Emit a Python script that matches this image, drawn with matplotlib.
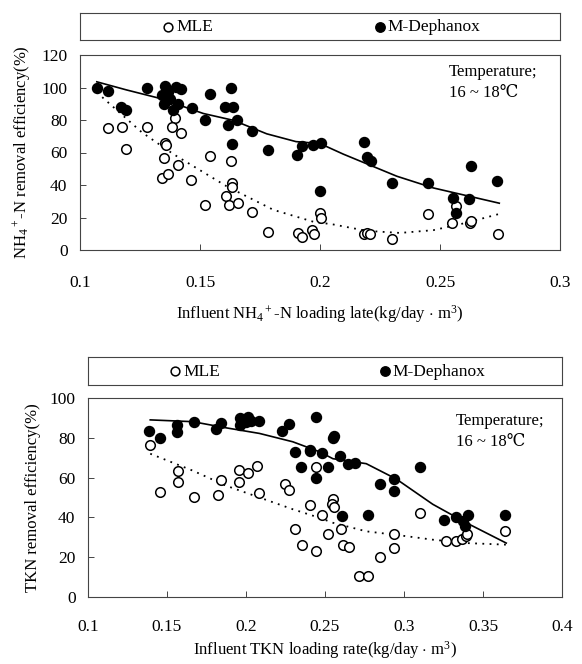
import matplotlib
matplotlib.use("Agg")
import matplotlib.pyplot as plt

plt.rcParams['font.family'] = ['Liberation Serif', 'DejaVu Serif', 'DejaVu Sans']
plt.rcParams['mathtext.fontset'] = 'custom'
plt.rcParams['mathtext.rm'] = 'Liberation Serif'
plt.rcParams['mathtext.it'] = 'Liberation Serif:italic'
plt.rcParams['mathtext.bf'] = 'Liberation Serif:bold'

# ---------------- Top panel data (NH4+-N) ----------------
nh4_dep_x = [0.107, 0.1115, 0.117, 0.119, 0.128, 0.1354, 0.134, 0.1368, 0.140, 0.142,
             0.135, 0.1375, 0.1386, 0.141, 0.1465, 0.154, 0.152, 0.1604, 0.163, 0.1636,
             0.1618, 0.1655, 0.1635, 0.1715, 0.1785, 0.1905, 0.1926, 0.197, 0.2003, 0.200,
             0.2183, 0.2194, 0.2211, 0.2299, 0.2449, 0.2556, 0.2567, 0.2629, 0.2622, 0.2739]
nh4_dep_y = [100, 98, 88, 86, 100, 101, 95.5, 97.5, 100.5, 99,
             90, 93, 86, 90, 87.5, 96, 80, 88, 99.5, 88,
             77, 80, 65, 73.5, 61.5, 58.5, 64, 64.5, 66, 36.5,
             66.5, 57.5, 55, 41.5, 41, 32, 22.5, 52, 31.5, 42.5]

nh4_mle_x = [0.1115, 0.1174, 0.119, 0.128, 0.1396, 0.1385, 0.142, 0.1354, 0.1360, 0.135,
             0.141, 0.134, 0.1368, 0.1463, 0.154, 0.152, 0.163, 0.1635, 0.1635, 0.1607,
             0.1622, 0.1657, 0.1718, 0.1785, 0.1907, 0.1926, 0.1968, 0.1975, 0.200, 0.2003,
             0.2183, 0.2194, 0.2208, 0.2299, 0.2449, 0.2549, 0.2567, 0.2625, 0.2630, 0.2743]
nh4_mle_y = [75, 76, 62, 75.5, 81.5, 76, 72, 66, 64.5, 56.5,
             52.5, 44.5, 47, 43, 58, 28, 54.5, 41.5, 39, 33,
             28, 29, 23.5, 11, 10.5, 8, 12.5, 10, 22.5, 20,
             10, 10.5, 10, 6.5, 22, 16.5, 27, 16.5, 18, 10]

nh4_dep_fit_x = [0.107, 0.1194, 0.1333, 0.1514, 0.1639, 0.1778, 0.190, 0.200, 0.2097, 0.232, 0.2472, 0.2747]
nh4_dep_fit_y = [103.5, 98.5, 93.3, 84, 79.8, 71.5, 66.7, 65.5, 59, 45.4, 38.2, 28.8]

nh4_mle_fit_x = [0.107, 0.1257, 0.1389, 0.1611, 0.1806, 0.1972, 0.2056, 0.2194, 0.2333, 0.2472, 0.2611, 0.2747]
nh4_mle_fit_y = [97, 72.5, 59, 39.2, 24.7, 17.4, 15.7, 11.8, 10.5, 12.2, 16.8, 22.2]

top_xticks = [0.1, 0.15, 0.2, 0.25, 0.3]
top_xticklabels = ['0.1', '0.15', '0.2', '0.25', '0.3']
top_yticks = [0, 20, 40, 60, 80, 100, 120]

# ---------------- Bottom panel data (TKN) ----------------
tkn_dep_x = [0.1389, 0.1457, 0.1562, 0.1562, 0.1674, 0.1811, 0.1843, 0.1959, 0.1959, 0.201,
             0.200, 0.2030, 0.2081, 0.2229, 0.2275, 0.2313, 0.2406, 0.2349, 0.2443, 0.244,
             0.2408, 0.2482, 0.2518, 0.255, 0.2555, 0.2598, 0.2644, 0.2691, 0.2609, 0.2771,
             0.2851, 0.2936, 0.2936, 0.3104, 0.3256, 0.3326, 0.3372, 0.3404, 0.3383, 0.3642]
tkn_dep_y = [83.5, 80, 86.5, 83, 88, 84.5, 87.5, 90, 86.5, 90.5,
             88, 88.5, 88.5, 83.5, 87, 73, 73.5, 65.5, 90.5, 60,
             74, 72.5, 65.5, 80, 81, 71, 67, 67.5, 40.5, 41,
             57, 59.5, 53.5, 65.5, 38.5, 40, 38, 41, 35.5, 41]

tkn_mle_x = [0.1394, 0.1457, 0.1569, 0.1569, 0.1674, 0.1822, 0.1843, 0.1955, 0.1955, 0.2011,
             0.2068, 0.2081, 0.2244, 0.2275, 0.2313, 0.2353, 0.2406, 0.2443, 0.2443, 0.2482,
             0.2518, 0.255, 0.2545, 0.2555, 0.2603, 0.2617, 0.2651, 0.2714, 0.2771, 0.2851,
             0.2936, 0.2936, 0.3104, 0.3263, 0.333, 0.337, 0.339, 0.340, 0.3642]
tkn_mle_y = [76.5, 53, 63.5, 58, 50.5, 51.5, 59, 64, 58, 62.5,
             66, 52.5, 57, 54, 34, 26, 46, 23, 65.5, 41,
             31.5, 49, 46.5, 45, 34, 26, 25, 10.5, 10.5, 20,
             31.5, 24.5, 42, 28, 28, 29, 30.5, 31.5, 33]

tkn_dep_fit_x = [0.1394, 0.1663, 0.1875, 0.2085, 0.2296, 0.2465, 0.255, 0.2761, 0.2951, 0.3182, 0.3394, 0.3647]
tkn_dep_fit_y = [89, 88.1, 85, 82.2, 78, 73, 69.5, 67, 59.3, 46.6, 37.3, 27.1]

tkn_mle_fit_x = [0.1394, 0.1663, 0.1875, 0.2085, 0.2296, 0.2465, 0.255, 0.2761, 0.2972, 0.3182, 0.3394, 0.3647]
tkn_mle_fit_y = [72, 63.5, 55.9, 50, 44.1, 39.8, 37.3, 33, 31, 28.8, 27.1, 26.3]

bot_xticks = [0.1, 0.15, 0.2, 0.25, 0.3, 0.35, 0.4]
bot_xticklabels = ['0.1', '0.15', '0.2', '0.25', '0.3', '0.35', '0.4']
bot_yticks = [0, 20, 40, 60, 80, 100]

series_names = ['MLE', 'M-Dephanox']
temp_text = 'Temperature;\n16 ~ 18\u2103'

# ---------------- Figure ----------------
W, H = 582, 664
fig = plt.figure(figsize=(W / 100, H / 100), dpi=100)

def fr(left, top, right, bottom):
    return [left / W, 1 - bottom / H, (right - left) / W, (bottom - top) / H]

spine_col = '#444444'
FS = 12.5
MS = 6.9

def style_axes(ax):
    for s in ax.spines.values():
        s.set_color(spine_col)
        s.set_linewidth(0.8)

def legend_box(ax, xs):
    style_axes(ax)
    ax.set_xticks([]); ax.set_yticks([])
    ax.set_xlim(0, 1); ax.set_ylim(0, 1)
    ax.plot([xs[0]], [0.5], marker='o', ms=6.3, mfc='white', mec='black', mew=1.1, ls='none')
    ax.text(xs[0] + 0.018, 0.47, series_names[0], fontsize=FS, va='center', ha='left')
    ax.plot([xs[1]], [0.5], marker='o', ms=6.8, mfc='black', mec='black', ls='none')
    ax.text(xs[1] + 0.016, 0.47, series_names[1], fontsize=FS, va='center', ha='left')

def panel(ax, mle_x, mle_y, dep_x, dep_y, mfx, mfy, dfx, dfy, xlim, ylim, xticks, xtl, yticks, xpad):
    style_axes(ax)
    ax.plot(dfx, dfy, color='black', lw=1.2, zorder=2)
    ax.plot(mfx, mfy, color='black', lw=1.3, ls=(0, (1, 3)), zorder=2)
    ax.plot(mle_x, mle_y, marker='o', ms=MS, mfc='white', mec='black', mew=1.1, ls='none', zorder=3)
    ax.plot(dep_x, dep_y, marker='o', ms=MS + 0.3, mfc='black', mec='black', ls='none', zorder=4)
    ax.set_xlim(*xlim); ax.set_ylim(*ylim)
    ax.set_xticks(xticks); ax.set_xticklabels(xtl)
    ax.set_yticks(yticks)
    ax.tick_params(axis='x', direction='in', length=4, width=0.7, pad=xpad, labelsize=FS, color=spine_col)
    ax.tick_params(axis='y', direction='in', length=4, width=0.7, pad=9, labelsize=FS, color=spine_col)

# Top
ax1 = fig.add_axes(fr(80, 55, 560, 250))
panel(ax1, nh4_mle_x, nh4_mle_y, nh4_dep_x, nh4_dep_y, nh4_mle_fit_x, nh4_mle_fit_y,
      nh4_dep_fit_x, nh4_dep_fit_y, (0.1, 0.3), (0, 120), top_xticks, top_xticklabels, top_yticks, 18)
ax1.set_xlabel(r'Influent NH$_4$$^+$-N loading late(kg/day $\cdot$ m$^3$)', fontsize=12, labelpad=9)
ax1.set_ylabel(r'NH$_4$$^+$-N removal efficiency(%)', fontsize=12, labelpad=6)
ax1.text(0.769, 0.955, temp_text, transform=ax1.transAxes, fontsize=12, va='top', ha='left',
         linespacing=1.45)
lg1 = fig.add_axes(fr(80, 13, 560, 40))
legend_box(lg1, [0.183, 0.625])

# Bottom
ax2 = fig.add_axes(fr(88, 398, 562, 597))
panel(ax2, tkn_mle_x, tkn_mle_y, tkn_dep_x, tkn_dep_y, tkn_mle_fit_x, tkn_mle_fit_y,
      tkn_dep_fit_x, tkn_dep_fit_y, (0.1, 0.4), (0, 100), bot_xticks, bot_xticklabels, bot_yticks, 16)
ax2.set_xlabel(r'Influent TKN loading rate(kg/day $\cdot$ m$^3$)', fontsize=12, labelpad=3)
ax2.set_ylabel('TKN removal efficiency(%)', fontsize=12, labelpad=6)
ax2.text(0.776, 0.925, temp_text, transform=ax2.transAxes, fontsize=12, va='top', ha='left',
         linespacing=1.45)
lg2 = fig.add_axes(fr(88, 357, 562, 385))
legend_box(lg2, [0.183, 0.627])

fig.savefig('out.png', dpi=100)
